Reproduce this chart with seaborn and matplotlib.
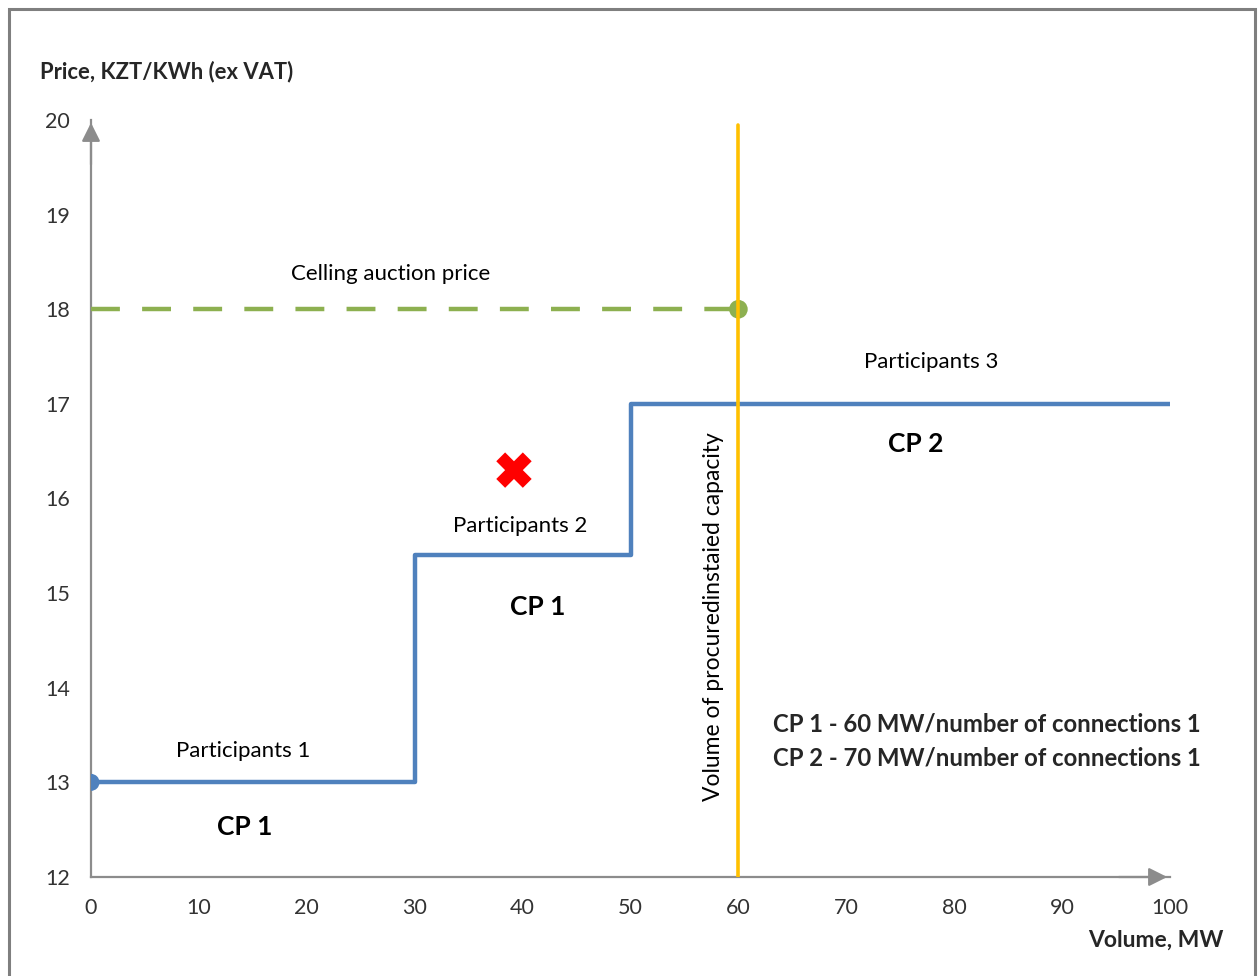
import matplotlib
matplotlib.use("Agg")
import matplotlib.pyplot as plt
import seaborn as sns
import pandas as pd
from matplotlib.patches import Rectangle

sns.set_theme(style="white")
plt.rcParams['font.family'] = ['Lato', 'DejaVu Sans']

# Data
step_volume = [0, 30, 30, 50, 50, 100]
step_price = [13, 13, 15.4, 15.4, 17, 17]
ceiling_volume = [0, 60]
ceiling_price = [18, 18]
procured_volume = [60, 60]
procured_price = [12, 19.95]
start_point = (0, 13)
ceiling_point = (60, 18)
rejected_bid = (39.2, 16.3)
x_ticks = [0, 10, 20, 30, 40, 50, 60, 70, 80, 90, 100]
y_ticks = [12, 13, 14, 15, 16, 17, 18, 19, 20]

BLUE = "#4F81BD"
GREEN = "#8DB050"
ORANGE = "#FFC000"
GRAY = "#8C8C8C"

fig = plt.figure(figsize=(12.59, 9.76), dpi=100)
ax = fig.add_axes([91/1259, 1-877/976, (1170-91)/1259, (877-120)/976])

step_df = pd.DataFrame({"Volume": step_volume, "Price": step_price})
sns.lineplot(data=step_df, x="Volume", y="Price", sort=False, estimator=None,
             color=BLUE, lw=3.2, ax=ax, zorder=3)
ceil_df = pd.DataFrame({"Volume": ceiling_volume, "Price": ceiling_price})
sns.lineplot(data=ceil_df, x="Volume", y="Price", sort=False, estimator=None,
             color=GREEN, lw=3.2, ax=ax, zorder=3, dashes=False)
ax.lines[-1].set_dashes([6.5, 5])
proc_df = pd.DataFrame({"Volume": procured_volume, "Price": procured_price})
sns.lineplot(data=proc_df, x="Volume", y="Price", sort=False, estimator=None,
             color=ORANGE, lw=2.6, ax=ax, zorder=5)

sns.scatterplot(x=[start_point[0]], y=[start_point[1]], color=BLUE, s=150,
                edgecolor="none", ax=ax, zorder=4)
sns.scatterplot(x=[ceiling_point[0]], y=[ceiling_point[1]], color=GREEN, s=180,
                edgecolor="none", ax=ax, zorder=4, clip_on=False)
sns.scatterplot(x=[rejected_bid[0]], y=[rejected_bid[1]], color="#FF0000", marker="X",
                s=650, edgecolor="none", ax=ax, zorder=4)

ax.set_xlim(0, 100)
ax.set_ylim(12, 20)
ax.set_xticks(x_ticks)
ax.set_yticks(y_ticks)
ax.set_xlabel("")
ax.set_ylabel("")
for side in ["top", "right"]:
    ax.spines[side].set_visible(False)
for side in ["left", "bottom"]:
    ax.spines[side].set_color(GRAY)
    ax.spines[side].set_linewidth(1.6)
ax.tick_params(axis="both", which="both", direction="out", length=7, width=1,
               color=GRAY, labelsize=15.5, labelcolor="#333333")
ax.tick_params(axis="x", pad=8)
ax.tick_params(axis="y", pad=8)

# axis arrows
ax.annotate("", xy=(0, 20.0), xytext=(0, 19.5),
            arrowprops=dict(arrowstyle="-|>", color=GRAY, lw=1.6, mutation_scale=28),
            annotation_clip=False)
ax.annotate("", xy=(100, 12), xytext=(95, 12),
            arrowprops=dict(arrowstyle="-|>", color=GRAY, lw=1.6, mutation_scale=28),
            annotation_clip=False)

# annotations
tkw = dict(ha="center", va="center", color="black")
ax.text(27.8, 18.37, "Celling auction price", fontsize=16, **tkw)
ax.text(77.9, 17.44, "Participants 3", fontsize=16, **tkw)
ax.text(76.4, 16.58, "CP 2", fontsize=19, fontweight="bold", **tkw)
ax.text(39.8, 15.71, "Participants 2", fontsize=16, **tkw)
ax.text(41.4, 14.85, "CP 1", fontsize=19, fontweight="bold", **tkw)
ax.text(14.1, 13.33, "Participants 1", fontsize=16, **tkw)
ax.text(14.2, 12.53, "CP 1", fontsize=19, fontweight="bold", **tkw)
ax.text(57.7, 14.75, "Volume of procuredinstaied capacity", fontsize=16.5,
        rotation=90, **tkw)
ax.text(63.2, 13.62, "CP 1 - 60 MW/number of connections 1", fontsize=17.2,
        fontweight="bold", ha="left", va="center")
ax.text(63.2, 13.26, "CP 2 - 70 MW/number of connections 1", fontsize=17.2,
        fontweight="bold", ha="left", va="center")

fig.text(40/1259, 1-72/976, "Price, KZT/KWh (ex VAT)", fontsize=15.8,
         fontweight="bold", ha="left", va="center")
fig.text(1224/1259, 1-940/976, "Volume, MW", fontsize=16.5,
         fontweight="bold", ha="right", va="center")

# outer frame
fig.patches.append(Rectangle((9/1259, -0.05), (1255-9)/1259, 1-9/976+0.05,
                             transform=fig.transFigure, fill=False,
                             edgecolor="#7F7F7F", lw=2.2, zorder=0))

fig.savefig("out.png", dpi=100)
